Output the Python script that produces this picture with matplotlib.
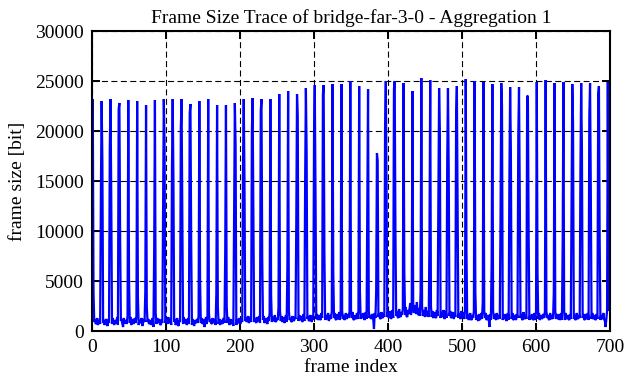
import numpy as np
import matplotlib
matplotlib.use("Agg")
import matplotlib.pyplot as plt

# frame sizes are given in units of 100 bit
# each GOP of 12 frames: [frame before I, I frame, frame after I, 9 others]
i_peak = [232, 230, 232, 228, 231, 230, 226, 231, 232, 232, 232, 227, 230, 232, 226,
          226, 228, 232, 233, 232, 232, 237, 240, 237, 243, 246, 246, 247, 247, 250,
          245, 242, 178, 250, 250, 248, 240, 253, 251, 243, 243, 245, 252, 250, 249,
          247, 248, 244, 244, 235, 249, 251, 248, 249, 247, 248, 248, 245, 249]
pre_i = [211, 141, 183, 222, 15, 15, 39, 82, 122, 162, 203, 218, 15, 15, 38,
         80, 119, 164, 200, 220, 18, 24, 64, 107, 151, 195, 237, 20, 20, 20,
         20, 130, 40, 204, 242, 22, 22, 39, 92, 133, 172, 215, 20, 20, 29,
         69, 112, 152, 194, 235, 20, 20, 38, 90, 133, 163, 215, 237, 20]
post_i = [40, 170, 133, 91, 53, 35, 25, 18, 190, 153, 123, 90, 51, 18, 25,
          25, 187, 153, 114, 73, 36, 20, 20, 215, 179, 139, 80, 59, 20, 20,
          40, 20, 170, 146, 101, 60, 25, 25, 25, 202, 161, 120, 80, 39, 20,
          20, 226, 180, 139, 98, 59, 20, 20, 20, 208, 183, 142, 90, 20]
others = [
    [9, 12, 7, 8, 13, 6, 9, 11, 7],
    [8, 11, 6, 10, 12, 7, 5, 12, 8],
    [7, 13, 9, 6, 11, 8, 9, 14, 6],
    [10, 12, 7, 4, 13, 9, 8, 11, 7],
    [8, 14, 6, 9, 12, 7, 10, 13, 8],
    [6, 11, 8, 9, 13, 5, 8, 12, 9],
    [9, 12, 7, 8, 11, 6, 9, 13, 4],
    [7, 13, 8, 10, 12, 7, 6, 11, 8],
    [8, 11, 9, 7, 14, 8, 9, 12, 6],
    [9, 12, 6, 8, 13, 7, 5, 11, 9],
    [7, 14, 8, 9, 12, 6, 8, 13, 7],
    [6, 12, 9, 5, 11, 8, 9, 12, 8],
    [8, 13, 7, 9, 12, 4, 8, 14, 7],
    [9, 11, 8, 7, 13, 8, 9, 12, 6],
    [7, 12, 6, 9, 11, 7, 10, 13, 8],
    [8, 14, 9, 6, 12, 8, 7, 11, 5],
    [6, 12, 8, 9, 13, 7, 8, 12, 9],
    [10, 14, 9, 11, 15, 8, 10, 14, 9],
    [9, 13, 10, 8, 14, 10, 11, 15, 8],
    [11, 15, 8, 10, 13, 9, 7, 14, 10],
    [9, 14, 11, 10, 16, 9, 10, 13, 11],
    [10, 15, 9, 11, 14, 8, 11, 16, 9],
    [11, 13, 10, 9, 15, 11, 10, 14, 12],
    [10, 16, 11, 12, 15, 9, 11, 17, 10],
    [12, 15, 10, 11, 16, 12, 9, 15, 11],
    [12, 17, 11, 13, 16, 12, 11, 18, 13],
    [11, 16, 13, 12, 18, 10, 13, 16, 12],
    [13, 18, 12, 11, 17, 13, 12, 19, 11],
    [12, 16, 11, 13, 18, 12, 14, 17, 13],
    [13, 19, 12, 11, 16, 13, 12, 18, 12],
    [12, 17, 13, 14, 18, 11, 13, 19, 12],
    [13, 16, 12, 14, 17, 12, 2, 18, 13],
    [14, 18, 13, 12, 19, 14, 13, 17, 14],
    [14, 19, 13, 15, 20, 12, 14, 21, 13],
    [15, 20, 14, 13, 22, 15, 14, 19, 16],
    [16, 24, 15, 14, 21, 17, 22, 28, 16],
    [18, 26, 20, 17, 29, 18, 16, 23, 15],
    [15, 21, 17, 14, 24, 15, 16, 20, 14],
    [14, 20, 13, 15, 19, 14, 13, 21, 15],
    [13, 19, 15, 14, 21, 12, 14, 20, 13],
    [15, 20, 13, 14, 19, 15, 12, 18, 14],
    [13, 18, 14, 12, 20, 13, 14, 19, 12],
    [12, 17, 11, 13, 18, 12, 11, 16, 13],
    [11, 16, 12, 10, 17, 11, 13, 18, 12],
    [13, 18, 11, 12, 16, 13, 4, 17, 11],
    [12, 17, 13, 11, 18, 12, 13, 16, 12],
    [11, 16, 12, 13, 17, 10, 12, 18, 11],
    [12, 18, 11, 12, 16, 13, 11, 17, 13],
    [13, 17, 12, 11, 19, 12, 13, 16, 12],
    [11, 16, 13, 12, 17, 11, 12, 18, 11],
    [12, 18, 11, 13, 16, 12, 14, 17, 13],
    [13, 16, 12, 11, 18, 13, 12, 16, 12],
    [12, 17, 13, 12, 17, 11, 13, 18, 11],
    [11, 18, 12, 13, 16, 12, 11, 17, 12],
    [12, 16, 11, 12, 18, 13, 12, 16, 13],
    [13, 17, 12, 11, 17, 12, 13, 18, 11],
    [12, 18, 13, 12, 16, 11, 12, 17, 12],
    [11, 16, 12, 13, 18, 12, 10, 4, 12],
    [58],
]

xticks = [0, 100, 200, 300, 400, 500, 600, 700]
yticks = [0, 5000, 10000, 15000, 20000, 25000, 30000]

sizes = []
for k in range(len(i_peak)):
    sizes += [pre_i[k], i_peak[k], post_i[k]] + others[k]
sizes = np.array(sizes) * 100
frames = np.arange(len(sizes))

plt.rcParams['font.family'] = ['Liberation Serif', 'DejaVu Serif']
plt.rcParams['font.size'] = 14

fig = plt.figure(figsize=(6.26, 3.82), dpi=100)
ax = fig.add_axes([0.147, 0.1335, 0.8275, 0.7853])

ax.plot(frames, sizes, color=(0, 0, 1), lw=1.6, solid_joinstyle='bevel', zorder=3)

ax.set_xlim(0, 700)
ax.set_ylim(0, 30000)
ax.set_xticks(xticks)
ax.set_yticks(yticks)

ax.grid(color='black', linestyle=(0, (5.4, 3.1)), linewidth=0.8, zorder=1)
ax.tick_params(which='major', direction='in', length=6, width=1.4,
               top=True, right=True, pad=6, labelsize=14)
for s in ax.spines.values():
    s.set_linewidth(1.5)
    s.set_zorder(4)

ax.set_title("Frame Size Trace of bridge-far-3-0 - Aggregation 1", fontsize=14, pad=6)
ax.set_xlabel("frame index", fontsize=14, labelpad=2)
ax.set_ylabel("frame size [bit]", fontsize=14, labelpad=6)

fig.savefig("out.png", dpi=100)
